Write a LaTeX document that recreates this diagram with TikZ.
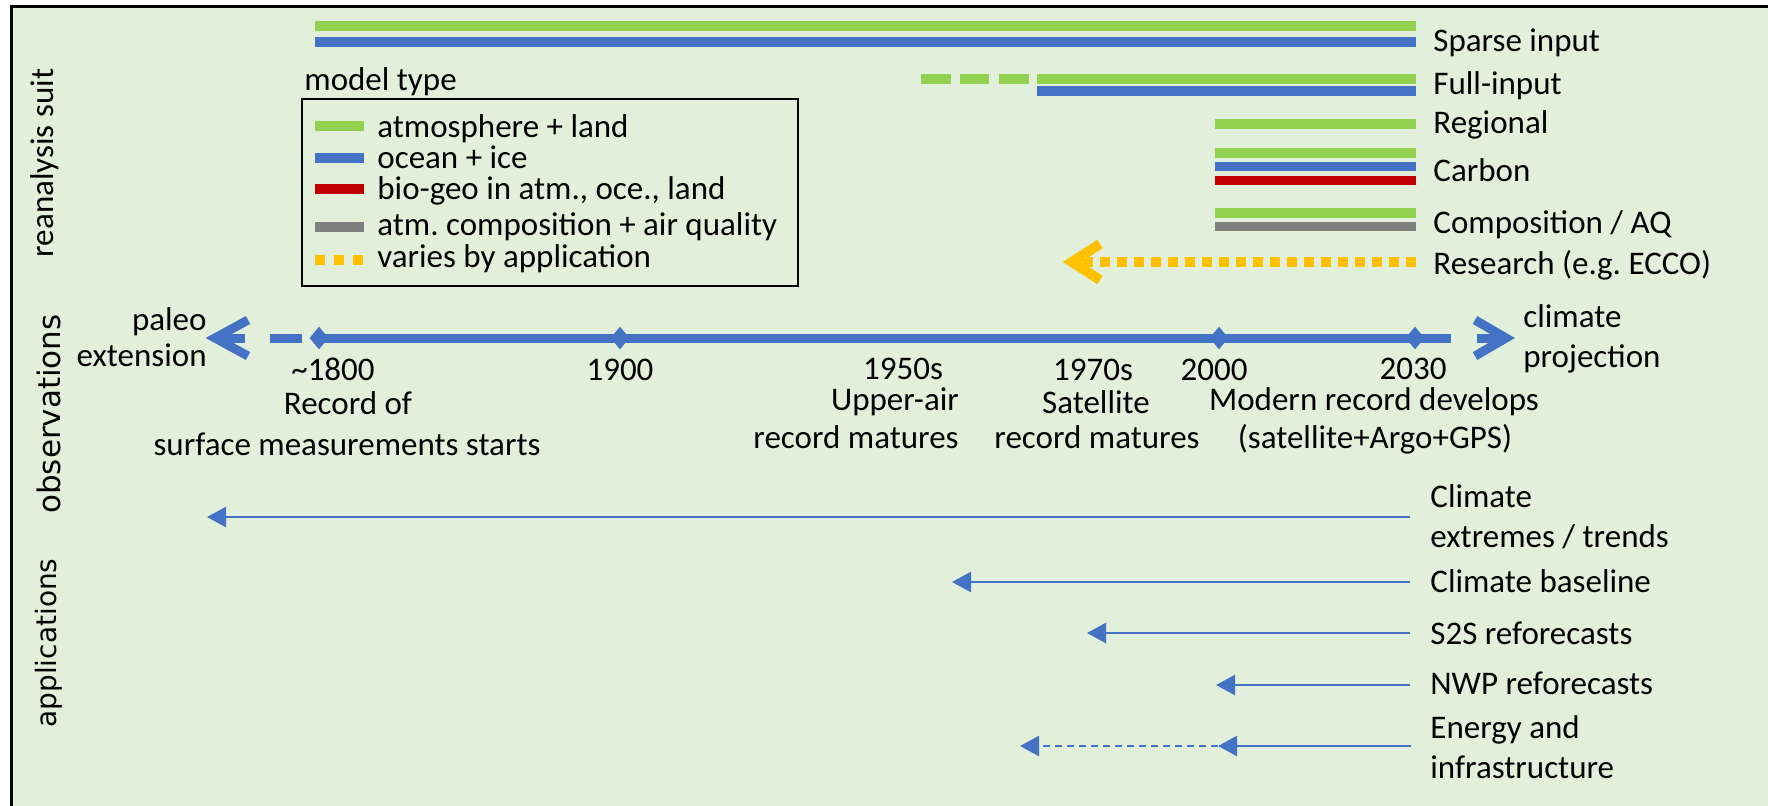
\documentclass[tikz,border=0pt]{standalone}
\usepackage{fontspec}
\setmainfont{Carlito}
\newfontfamily\sidefont{DejaVu Sans}
\usetikzlibrary{arrows.meta,shapes.geometric}
\definecolor{bg}{HTML}{E2EFDA}
\definecolor{cgreen}{HTML}{92D050}
\definecolor{cblue}{HTML}{4472C4}
\definecolor{cred}{HTML}{C00000}
\definecolor{cgray}{HTML}{7F7F7F}
\definecolor{cyellow}{HTML}{FFC000}
\frenchspacing
\begin{document}
\begin{tikzpicture}[x=0.5pt,y=-0.5pt,
  font=\fontsize{16.5}{19.8}\selectfont,
  bar/.style={line width=4.8pt},
  lbl/.style={anchor=base west, inner sep=0pt},
  ctr/.style={anchor=base, inner sep=0pt},
  rgt/.style={anchor=base east, inner sep=0pt},
  tl/.style={cblue, line width=4.5pt},
  chev/.style={cblue, line width=4.5pt, line join=miter, line cap=butt},
  yrmark/.style={diamond, fill=cblue, inner sep=0pt, minimum width=9.5pt, minimum height=11.5pt},
  app/.style={cblue, line width=1.2pt, -{Triangle[length=9.5pt,width=10pt]}},
  appdash/.style={app, dash pattern=on 3.5pt off 2.5pt},
  dots/.style={cyellow, line width=5pt, dash pattern=on 5pt off 3.5pt},
  side/.style={rotate=90, inner sep=0pt}]
\useasboundingbox (0,0) rectangle (1768,805);
\fill[white] (0,0) rectangle (1768,805);
\draw[line width=1.65pt, fill=bg] (11.7,6.7) rectangle (1800,840);

% section titles
\node[side] (sec-rean) at (45,163) {reanalysis suit};
\node[side, font=\sidefont\fontsize{15.5}{18}\selectfont] (sec-obs) at (49,414) {observations};
\node[side, font=\sidefont\fontsize{14}{17}\selectfont] (sec-app) at (49,643) {applications};

% ---------------- reanalysis suite bars ----------------
\draw[bar,cgreen] (315,25.8) -- (1416,25.8);
\draw[bar,cblue]  (315,42) -- (1416,42);
\node[lbl] (sparse) at (1433,51.5) {Sparse input};

\draw[bar,cgreen] (921,79) -- (951,79);
\draw[bar,cgreen] (960,79) -- (989,79);
\draw[bar,cgreen] (999,79) -- (1029,79);
\draw[bar,cgreen] (1037,79) -- (1416,79);
\draw[bar,cblue]  (1037,90.7) -- (1416,90.7);
\node[lbl] (full) at (1433,94) {Full-input};

\draw[bar,cgreen] (1215,124) -- (1416,124);
\node[lbl] (regional) at (1433,133.5) {Regional};

\draw[bar,cgreen] (1215,153) -- (1416,153);
\draw[bar,cblue]  (1215,166.5) -- (1416,166.5);
\draw[bar,cred]   (1215,180.5) -- (1416,180.5);
\node[lbl] (carbon) at (1433,181.5) {Carbon};

\draw[bar,cgreen] (1215,213) -- (1416,213);
\draw[bar,cgray]  (1215,226.5) -- (1416,226.5);
\node[lbl] (comp) at (1433,233.5) {Composition / AQ};

\coordinate (res-s) at (1416,262);
\coordinate (res-tip) at (1072,262);
\draw[dots] (res-s) -- (1082,262);
\draw[cyellow, line width=5pt, line join=miter] (1100,244) -- (res-tip) -- (1100,280);
\node[lbl] (research) at (1433,274.5) {Research (e.g. ECCO)};

% legend
\node[lbl] (mtype) at (304,90) {model type};
\draw[line width=0.75pt] (302,99) rectangle (798,286);
\draw[bar,cgreen] (315,126) -- (364,126);
\node[lbl] (lg1) at (377,137) {atmosphere + land};
\draw[bar,cblue] (315,158) -- (364,158);
\node[lbl] (lg2) at (377,168) {ocean + ice};
\draw[bar,cred] (315,189) -- (364,189);
\node[lbl] (lg3) at (377,199) {bio-geo in atm., oce., land};
\draw[bar,cgray] (315,227) -- (364,227);
\node[lbl] (lg4) at (377,235) {atm. composition + air quality};
\draw[cyellow, line width=5pt, dash pattern=on 5pt off 4.5pt] (315,260) -- (364,260);
\node[lbl] (lg5) at (377,267) {varies by application};

% ---------------- observation timeline ----------------
\coordinate (tl-end) at (1451,338);
\coordinate (dash-a) at (270,338);
\coordinate (dash-b) at (302,338);
\coordinate (paleo) at (215,338);
\coordinate (proj) at (1506,338);
\draw[tl] (319,338) -- (tl-end);
\draw[tl] (dash-a) -- (dash-b);
\draw[tl] (paleo) -- (245,338);
\draw[chev] (248,320) -- (paleo) -- (248,356);
\draw[tl] (1477,338) -- (proj);
\draw[chev] (1475,320) -- (proj) -- (1475,356);
\node[yrmark] (y1800) at (319,338) {};
\node[yrmark] (y1900) at (620,338) {};
\node[yrmark] (y2000) at (1219,338) {};
\node[yrmark] (y2030) at (1415,338) {};

\node[rgt] (paleo1) at (207,330) {paleo};
\node[rgt] (paleo2) at (207,366) {extension};
\node[ctr] (t1800) at (333,380) {\textasciitilde1800};
\node[ctr] (t1800b) at (348,414) {Record of};
\node[ctr] (t1800c) at (347,455) {surface measurements starts};
\node[ctr] (t1900) at (620,380) {1900};
\node[ctr] (t1950) at (903,379) {1950s};
\node[ctr] (t1950b) at (895,410) {Upper-air};
\node[ctr] (t1950c) at (856,448) {record matures};
\node[ctr] (t1970) at (1093,380) {1970s};
\node[ctr] (t1970b) at (1096,413) {Satellite};
\node[ctr] (t1970c) at (1097,448) {record matures};
\node[ctr] (t2000) at (1214,380) {2000};
\node[ctr] (t2030) at (1413,379) {2030};
\node[ctr] (tmod) at (1374,410) {Modern record develops};
\node[ctr] (tmodb) at (1375,448) {(satellite+Argo+GPS)};
\node[lbl] (proj1) at (1523,327) {climate};
\node[lbl] (proj2) at (1523,367) {projection};

% ---------------- applications ----------------
\node[lbl] (a1) at (1430,507) {Climate};
\node[lbl] (a1b) at (1430,547) {extremes / trends};
\coordinate (a1-s) at (1410,517);
\coordinate (a1-e) at (207,517);
\draw[app] (a1-s) -- (a1-e);

\node[lbl] (a2) at (1430,592.5) {Climate baseline};
\coordinate (a2-s) at (1410,582);
\coordinate (a2-e) at (952,582);
\draw[app] (a2-s) -- (a2-e);

\node[lbl] (a3) at (1430,644) {S2S reforecasts};
\coordinate (a3-s) at (1410,633);
\coordinate (a3-e) at (1087,633);
\draw[app] (a3-s) -- (a3-e);

\node[lbl] (a4) at (1430,694) {NWP reforecasts};
\coordinate (a4-s) at (1410,685);
\coordinate (a4-e) at (1216,685);
\draw[app] (a4-s) -- (a4-e);

\node[lbl] (a5) at (1430,738) {Energy and};
\node[lbl] (a5b) at (1430,778) {infrastructure};
\coordinate (a5-s) at (1411,746);
\coordinate (a5-m) at (1218,746);
\coordinate (a5-e) at (1020,746);
\draw[app] (a5-s) -- (a5-m);
\draw[appdash] (a5-m) -- (a5-e);
\end{tikzpicture}
\end{document}
